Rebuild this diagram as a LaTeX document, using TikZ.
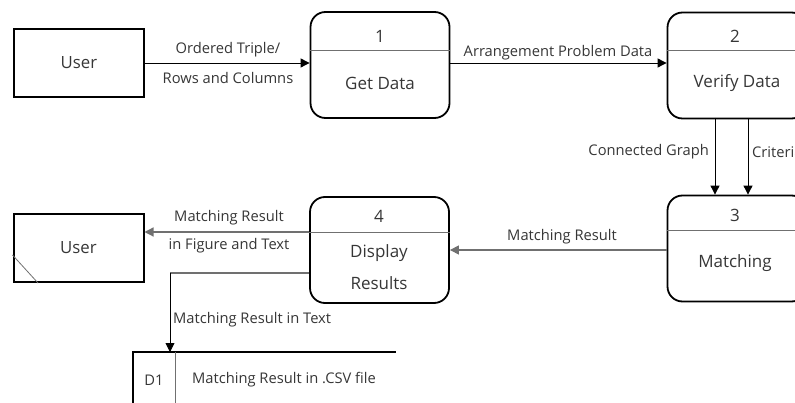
\documentclass[tikz,border=0pt]{standalone}
\usepackage{fontspec}
\setmainfont{Open Sans}
\usetikzlibrary{arrows.meta}
\definecolor{txt}{HTML}{363636}
\definecolor{flowgray}{HTML}{707070}
\tikzset{
  entity/.style={draw=black, line width=2pt, minimum width=130pt, minimum height=68pt, inner sep=0pt, text=txt},
  process/.style={draw=black, line width=1.8pt, rounded corners=15pt, minimum width=139pt, minimum height=106pt, inner sep=0pt},
  divider/.style={draw=flowgray, line width=0.9pt},
  flow/.style={draw=black, line width=0.9pt, -{Triangle[length=9pt,width=9pt]}},
  flowg/.style={draw=flowgray, line width=1.2pt, -{Triangle[length=9pt,width=9pt]}},
  lbl/.style={text=txt, inner sep=0pt, font=\fontsize{14.7}{17}\selectfont},
  ptxt/.style={text=txt, inner sep=0pt, font=\fontsize{17}{20}\selectfont},
}
\begin{document}
\begin{tikzpicture}[x=1pt, y=-1pt, font=\fontsize{16.8}{20}\selectfont]
\useasboundingbox (0,0) rectangle (795,403);

% external entities
\node[entity] (user1) at (79,63) {User};
\node[entity] (user2) at (78.5,248) {User};
\draw[line width=0.8pt, flowgray] (user2.west |- 0,255) -- (38,283);

% processes
\node[process] (p1) at (380,65) {};
\node[process] (p2) at (737,65.5) {};
\node[process] (p3) at (737,248.5) {};
\node[process] (p4) at (379.5,250) {};

\draw[divider] (p1.west |- 0,50) -- (p1.east |- 0,50);
\draw[divider] (p2.west |- 0,50) -- (p2.east |- 0,50);
\draw[divider] (p3.west |- 0,230) -- (p3.east |- 0,230);
\draw[divider] (p4.west |- 0,232) -- (p4.east |- 0,232);

\node[ptxt] (n1) at (380,36) {1};
\node[ptxt] (t1) at (380,83) {Get Data};
\node[ptxt] (n2) at (735,36) {2};
\node[ptxt] (t2) at (737,83) {Verify Data};
\node[ptxt] (n3) at (735,215) {3};
\node[ptxt] (t3) at (735,263) {Matching};
\node[ptxt] (n4) at (379,216) {4};
\node[ptxt] (t4a) at (379,253) {Display};
\node[ptxt] (t4b) at (379,283) {Results};

% data store
\coordinate (dsTL) at (133,352);
\coordinate (dsTR) at (396,352);
\coordinate (dsBL) at (133,403);
\coordinate (dsDivT) at (175,352);
\coordinate (dsDivB) at (175,403);
\draw[line width=2pt] (dsBL) -- (dsTL) -- (dsTR);
\draw[divider] (dsDivT) -- (dsDivB);
\draw[divider] (dsBL) -- (396,403);
\node[lbl] (d1id) at (154,380) {D1};
\node[lbl, anchor=west] (d1name) at (192,380) {Matching Result in .CSV file};

% data flows
\draw[flow] (user1.east) -- (user1.east -| p1.west);
\node[lbl] (f1a) at (228,50) {Ordered Triple/};
\node[lbl] (f1b) at (228,78) {Rows and Columns};

\draw[flow] (p1.east |- 0,63) -- (p2.west |- 0,63);
\node[lbl] (f2) at (558,53) {Arrangement Problem Data};

\coordinate (g1) at (715,118);
\coordinate (g2) at (748,118);
\draw[flow] (g1) -- (g1 |- p3.north);
\draw[flow] (g2) -- (g2 |- p3.north);
\node[lbl, anchor=east] (f3a) at (709,152) {Connected Graph};
\node[lbl, anchor=west] (f3b) at (752,152) {Criteria};

\draw[flowg] (p3.west |- 0,250) -- (p4.east |- 0,250);
\node[lbl] (f4) at (562,237) {Matching Result};

\draw[flowg] (p4.west |- 0,232) -- (user2.east |- 0,232);
\node[lbl] (f5a) at (229,218) {Matching Result};
\node[lbl] (f5b) at (229,246) {in Figure and Text};

\coordinate (bend) at (170,273);
\draw[draw=flowgray, line width=1.2pt] (p4.west |- bend) -- (bend);
\draw[flow] (bend) -- (bend |- dsTL);
\node[lbl, anchor=west] (f6) at (173,320) {Matching Result in Text};
\end{tikzpicture}
\end{document}
